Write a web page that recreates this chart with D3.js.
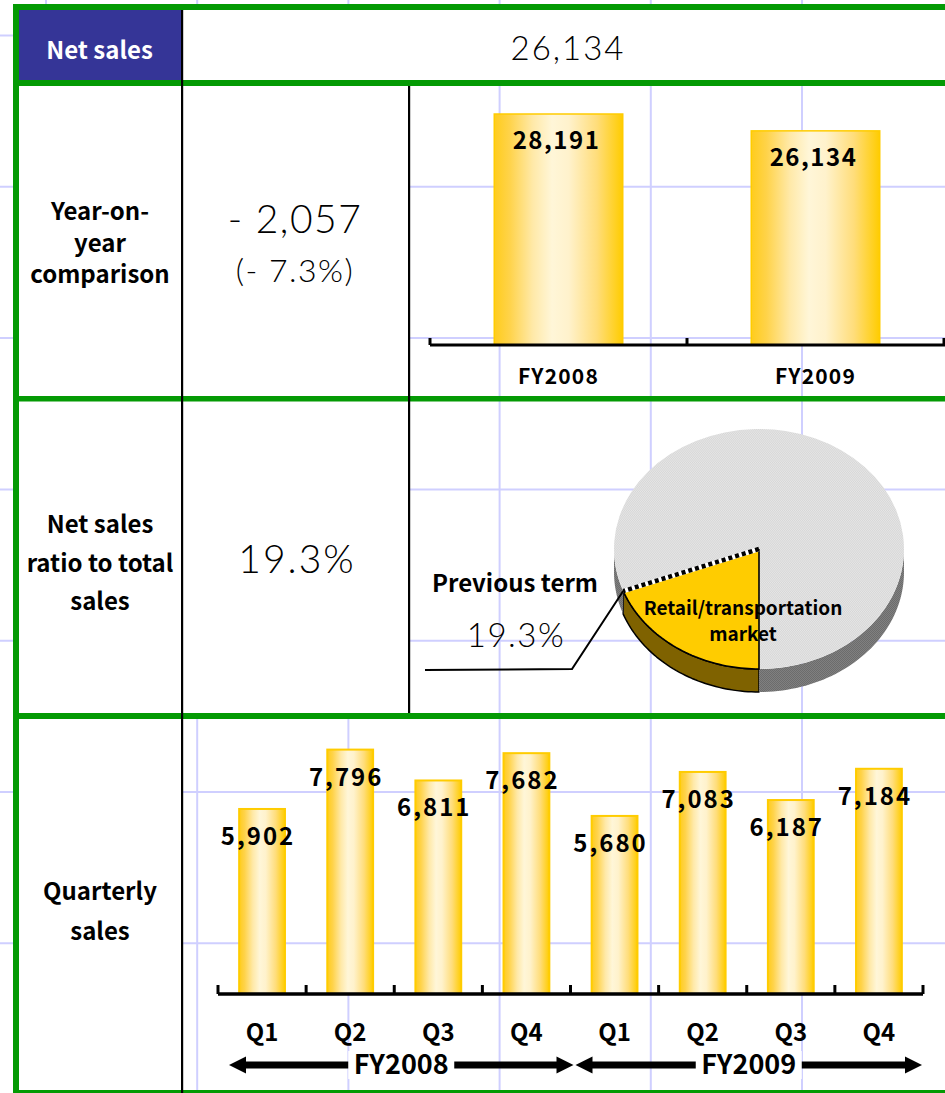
<!DOCTYPE html>
<html>
<head>
<meta charset="utf-8">
<script src="https://cdn.jsdelivr.net/npm/d3@7"></script>
<style>
  html, body { margin: 0; padding: 0; background: #ffffff; }
  svg { display: block; }
  .lbl { font-family: "Noto Sans CJK JP", "Noto Sans", sans-serif; font-weight: 700; fill: #000; }
  .num { font-family: "Lato", "Noto Sans", sans-serif; font-weight: 300; fill: #000; }
</style>
</head>
<body>
<script>
// ---- data ----
const headerLabel = "Net sales";
const currentNetSales = 26134;
const yoyChange = -2057;
const yoyChangePct = -7.3;

const fiscalYears = ["FY2008", "FY2009"];
const annualSales = [28191, 26134];

const shareLabel = ["Retail/transportation", "market"];
const shareSlices = ["Retail/transportation market", "Other"];
const shareValues = [19.3, 80.7];
const previousTermLabel = "Previous term";
const previousTermShare = 19.3;

const quarterNames = ["Q1", "Q2", "Q3", "Q4", "Q1", "Q2", "Q3", "Q4"];
const quarterYears = ["FY2008", "FY2008", "FY2008", "FY2008", "FY2009", "FY2009", "FY2009", "FY2009"];
const quarterlySales = [5902, 7796, 6811, 7682, 5680, 7083, 6187, 7184];

const rowLabels = [
  ["Year-on-", "year", "comparison"],
  ["Net sales", "ratio to total", "sales"],
  ["Quarterly", "sales"]
];

// ---- page ----
const W = 945, H = 1093;
const fmt = d3.format(",");
const svg = d3.select("body").append("svg").attr("width", W).attr("height", H);
const defs = svg.append("defs");

// bar fill: gold edges, pale cream centre
const grad = defs.append("linearGradient").attr("id", "barFill").attr("x1", 0).attr("x2", 1).attr("y1", 0).attr("y2", 0);
[[0, "#ffcc1c"], [0.12, "#ffd34a"], [0.3, "#ffe9a8"], [0.45, "#fff6d8"], [0.58, "#fff2cc"], [0.8, "#ffdd7a"], [1, "#ffcc00"]]
  .forEach(([o, c]) => grad.append("stop").attr("offset", o).attr("stop-color", c));

// dithered greys for the pie
function dither(id, a, b) {
  const p = defs.append("pattern").attr("id", id).attr("width", 2).attr("height", 2).attr("patternUnits", "userSpaceOnUse");
  p.append("rect").attr("width", 2).attr("height", 2).attr("fill", a);
  p.append("rect").attr("width", 1).attr("height", 1).attr("fill", b);
  p.append("rect").attr("x", 1).attr("y", 1).attr("width", 1).attr("height", 1).attr("fill", b);
}
dither("greyTop", "#e6e6e6", "#d6d6d6");
dither("greySide", "#808080", "#6c6c6c");

// background grid
const gridColor = "#cfcfff";
const gx = d3.range(6).map(i => 46 + i * 151.2);
const gy = d3.range(8).map(i => 35.5 + i * 151.3);
svg.append("g").selectAll("line.v").data(gx).join("line")
  .attr("x1", d => d).attr("x2", d => d).attr("y1", 0).attr("y2", H)
  .attr("stroke", gridColor).attr("stroke-width", 2);
svg.append("g").selectAll("line.h").data(gy).join("line")
  .attr("x1", 0).attr("x2", W).attr("y1", d => d).attr("y2", d => d)
  .attr("stroke", gridColor).attr("stroke-width", 2);

// table geometry
const colL = 19, colA = 182, colB = 409;
const rows = [[10, 83], [83, 398.5], [398.5, 716], [716, 1093]];

// opaque cells (label and value cells hide the grid)
const white = svg.append("g").attr("fill", "#fff");
white.append("rect").attr("x", colA).attr("y", rows[0][0]).attr("width", W - colA).attr("height", rows[0][1] - rows[0][0]);
[1, 2].forEach(r => white.append("rect").attr("x", colL).attr("y", rows[r][0]).attr("width", colB - colL).attr("height", rows[r][1] - rows[r][0]));
white.append("rect").attr("x", colL).attr("y", rows[3][0]).attr("width", colA - colL).attr("height", rows[3][1] - rows[3][0]);
svg.append("rect").attr("x", colL).attr("y", rows[0][0]).attr("width", colA - colL).attr("height", rows[0][1] - rows[0][0]).attr("fill", "#353597");

// header texts
svg.append("text").attr("class", "lbl").attr("x", (colL + colA) / 2 - 1).attr("y", 59)
  .attr("text-anchor", "middle").attr("font-size", 24).style("fill", "#fff").text(headerLabel);
svg.append("text").attr("class", "num").attr("x", 568).attr("y", 60)
  .attr("text-anchor", "middle").attr("font-size", 33).attr("letter-spacing", 2).text(fmt(currentNetSales));

// row labels
const labelBase = [[220, 251.5, 283], [533, 572, 610], [900, 940]];
rowLabels.forEach((lines, r) => {
  lines.forEach((t, i) => {
    svg.append("text").attr("class", "lbl").attr("x", 100).attr("y", labelBase[r][i])
      .attr("text-anchor", "middle").attr("font-size", 24).text(t);
  });
});

// value cells
const sign = v => (v < 0 ? "- " : "+ ");
svg.append("text").attr("class", "num").attr("x", 295).attr("y", 233)
  .attr("text-anchor", "middle").attr("font-size", 39).attr("letter-spacing", 1.5).text(sign(yoyChange) + fmt(Math.abs(yoyChange)));
svg.append("text").attr("class", "num").attr("x", 295).attr("y", 282)
  .attr("text-anchor", "middle").attr("font-size", 32).attr("letter-spacing", 1.5)
  .text("(" + sign(yoyChangePct).trim() + " " + Math.abs(yoyChangePct).toFixed(1) + "%)");
svg.append("text").attr("class", "num").attr("x", 297).attr("y", 573)
  .attr("text-anchor", "middle").attr("font-size", 39).attr("letter-spacing", 2).text(previousTermShare.toFixed(1) + "%");

// ---- annual bars ----
const axisY1 = 345;
const xA = d3.scaleBand().domain(fiscalYears).range([430, 944]);
const yA = d3.scaleLinear().domain([0, 28191]).range([axisY1, 114]);
const gA = svg.append("g");
gA.selectAll("rect").data(fiscalYears).join("rect")
  .attr("x", d => xA(d) + xA.bandwidth() * 0.25)
  .attr("width", xA.bandwidth() * 0.5)
  .attr("y", (d, i) => yA(annualSales[i]))
  .attr("height", (d, i) => axisY1 - yA(annualSales[i]))
  .attr("fill", "url(#barFill)").attr("stroke", "#ffcc00").attr("stroke-width", 1.5);
gA.selectAll("text.v").data(fiscalYears).join("text").attr("class", "lbl")
  .attr("x", d => xA(d) + xA.bandwidth() / 2 - 2)
  .attr("y", (d, i) => yA(annualSales[i]) + 35)
  .attr("text-anchor", "middle").attr("font-size", 24).attr("letter-spacing", 1.5)
  .text((d, i) => fmt(annualSales[i]));
gA.selectAll("text.c").data(fiscalYears).join("text").attr("class", "lbl")
  .attr("x", d => xA(d) + xA.bandwidth() / 2)
  .attr("y", 384).attr("text-anchor", "middle").attr("font-size", 21).attr("letter-spacing", 1.2)
  .text(d => d);
const ticksA = fiscalYears.map(d => xA(d)).concat([xA.range()[1]]);
gA.append("line").attr("x1", ticksA[0]).attr("x2", W).attr("y1", axisY1).attr("y2", axisY1)
  .attr("stroke", "#000").attr("stroke-width", 3);
gA.selectAll("line.t").data(ticksA).join("line")
  .attr("x1", d => d).attr("x2", d => d).attr("y1", axisY1).attr("y2", axisY1 - 7)
  .attr("stroke", "#000").attr("stroke-width", 3);

// ---- share pie (tilted 3D) ----
const pc = { x: 759, y: 549, rx: 145, ry: 120, depth: 23 };
const pie = d3.pie().sort(null).startAngle(Math.PI).endAngle(3 * Math.PI);
const arcs = pie(shareValues);
const pt = (a, dy = 0) => [pc.x + pc.rx * Math.sin(a), pc.y - pc.ry * Math.cos(a) + dy];
const wall = d3.line();
function sidePath(a0, a1) {
  const n = 48, top = [], bot = [];
  for (let k = 0; k <= n; k++) {
    const a = a0 + (a1 - a0) * k / n;
    top.push(pt(a));
    bot.push(pt(a, pc.depth));
  }
  return wall(top.concat(bot.reverse())) + "Z";
}
const front = [Math.PI / 2, 3 * Math.PI / 2];
const gP = svg.append("g");
// visible side walls
arcs.forEach((s, i) => {
  // clip each slice to the front half [pi/2, 3pi/2] (and its copy shifted by 2pi)
  [0, 2 * Math.PI].forEach(shift => {
    const a0 = Math.max(s.startAngle, front[0] + shift), a1 = Math.min(s.endAngle, front[1] + shift);
    if (a1 > a0) {
      gP.append("path").attr("d", sidePath(a0, a1))
        .attr("fill", i === 0 ? "#7f6200" : "url(#greySide)")
        .attr("stroke", i === 0 ? "#000" : "none").attr("stroke-width", 1.5).attr("stroke-linejoin", "round");
    }
  });
});
// top surface
const arcGen = d3.arc().innerRadius(0).outerRadius(pc.rx);
const topG = gP.append("g").attr("transform", `translate(${pc.x},${pc.y}) scale(1,${pc.ry / pc.rx})`);
topG.selectAll("path").data(arcs).join("path").attr("d", arcGen)
  .attr("fill", (d, i) => (i === 0 ? "#ffcc00" : "url(#greyTop)"))
  .attr("stroke", "none");
// slice outline: solid arc + radial edge, dotted leading edge
const sl = arcs[0];
const outline = d3.path();
outline.moveTo(...pt(sl.endAngle));
for (let k = 1; k <= 48; k++) outline.lineTo(...pt(sl.endAngle + (sl.startAngle - sl.endAngle) * k / 48));
outline.lineTo(pc.x, pc.y);
gP.append("path").attr("d", outline.toString()).attr("fill", "none").attr("stroke", "#000").attr("stroke-width", 1.6);
const edgeEnd = pt(sl.endAngle);
gP.append("line").attr("x1", pc.x).attr("y1", pc.y).attr("x2", edgeEnd[0]).attr("y2", edgeEnd[1])
  .attr("stroke", "#fff").attr("stroke-width", 4.5);
gP.append("line").attr("x1", pc.x).attr("y1", pc.y).attr("x2", edgeEnd[0]).attr("y2", edgeEnd[1])
  .attr("stroke", "#000").attr("stroke-width", 4.5).attr("stroke-dasharray", "4,3");
shareLabel.forEach((t, i) => {
  gP.append("text").attr("class", "lbl").attr("x", pc.x - 16).attr("y", pc.y + 66 + i * 26)
    .attr("text-anchor", "middle").attr("font-size", 19).text(t);
});
// leader to the previous-term callout
gP.append("path").attr("d", d3.line()([[425, 670], [572, 669], edgeEnd]))
  .attr("fill", "none").attr("stroke", "#000").attr("stroke-width", 2);
gP.append("text").attr("class", "lbl").attr("x", 515).attr("y", 592)
  .attr("text-anchor", "middle").attr("font-size", 24).text(previousTermLabel);
gP.append("text").attr("class", "num").attr("x", 516).attr("y", 647)
  .attr("text-anchor", "middle").attr("font-size", 33).attr("letter-spacing", 1.5).text(previousTermShare.toFixed(1) + "%");

// ---- quarterly bars ----
const axisY2 = 994;
const qKeys = quarterNames.map((q, i) => quarterYears[i] + "-" + q);
const xQ = d3.scaleBand().domain(qKeys).range([218, 923]);
const yQ = d3.scaleLinear().domain([0, 8000]).range([axisY2, axisY2 - 250.8]);
const gQ = svg.append("g");
const bwQ = xQ.bandwidth() * 0.52;
gQ.selectAll("rect").data(qKeys).join("rect")
  .attr("x", d => xQ(d) + (xQ.bandwidth() - bwQ) / 2)
  .attr("width", bwQ)
  .attr("y", (d, i) => yQ(quarterlySales[i]))
  .attr("height", (d, i) => axisY2 - yQ(quarterlySales[i]))
  .attr("fill", "url(#barFill)").attr("stroke", "#ffcc00").attr("stroke-width", 2);
gQ.selectAll("text.v").data(qKeys).join("text").attr("class", "lbl")
  .attr("x", d => xQ(d) + xQ.bandwidth() / 2 - 4)
  .attr("y", (d, i) => yQ(quarterlySales[i]) + 36)
  .attr("text-anchor", "middle").attr("font-size", 24).attr("letter-spacing", 2)
  .text((d, i) => fmt(quarterlySales[i]));
gQ.selectAll("text.q").data(qKeys).join("text").attr("class", "lbl")
  .attr("x", d => xQ(d) + xQ.bandwidth() / 2)
  .attr("y", 1041).attr("text-anchor", "middle").attr("font-size", 24)
  .text((d, i) => quarterNames[i]);
const ticksQ = qKeys.map(d => xQ(d)).concat([xQ.range()[1]]);
gQ.append("line").attr("x1", ticksQ[0]).attr("x2", ticksQ[ticksQ.length - 1]).attr("y1", axisY2).attr("y2", axisY2)
  .attr("stroke", "#000").attr("stroke-width", 3.5);
gQ.selectAll("line.t").data(ticksQ).join("line")
  .attr("x1", d => d).attr("x2", d => d).attr("y1", axisY2).attr("y2", axisY2 - 9)
  .attr("stroke", "#000").attr("stroke-width", 3);

// fiscal-year span arrows
const arrowY = 1065, head = 17, headH = 8.5;
fiscalYears.forEach(fy => {
  const keys = qKeys.filter(k => k.startsWith(fy));
  const x0 = xQ(keys[0]) + (fy === fiscalYears[0] ? 11 : 5);
  const x1 = xQ(keys[keys.length - 1]) + xQ.bandwidth() + (fy === fiscalYears[0] ? 3 : -1);
  const g = gQ.append("g");
  g.append("line").attr("x1", x0 + head - 1).attr("x2", x1 - head + 1).attr("y1", arrowY).attr("y2", arrowY)
    .attr("stroke", "#000").attr("stroke-width", 7);
  g.append("path").attr("d", d3.line()([[x0, arrowY], [x0 + head, arrowY - headH], [x0 + head, arrowY + headH]]) + "Z").attr("fill", "#000");
  g.append("path").attr("d", d3.line()([[x1, arrowY], [x1 - head, arrowY - headH], [x1 - head, arrowY + headH]]) + "Z").attr("fill", "#000");
  const cx = (x0 + x1) / 2;
  g.append("rect").attr("x", cx - 53).attr("y", arrowY - 14).attr("width", 106).attr("height", 28).attr("fill", "#fff");
  g.append("text").attr("class", "lbl").attr("x", cx).attr("y", arrowY + 9)
    .attr("text-anchor", "middle").attr("font-size", 27).text(fy);
});

// ---- table rules ----
const green = "#049a04";
const rules = svg.append("g");
rules.append("rect").attr("x", 13).attr("y", 4).attr("width", W - 13).attr("height", 6).attr("fill", green);
rules.append("rect").attr("x", 13).attr("y", 4).attr("width", 6).attr("height", H - 4).attr("fill", green);
[[80, 6], [396, 5.5], [713, 6], [1090, 3]].forEach(([y, h]) =>
  rules.append("rect").attr("x", 13).attr("y", y).attr("width", W - 13).attr("height", h).attr("fill", green));
rules.append("rect").attr("x", 181).attr("y", 10).attr("width", 2.2).attr("height", H - 10).attr("fill", "#000");
rules.append("rect").attr("x", 408).attr("y", 86).attr("width", 2.2).attr("height", 627).attr("fill", "#000");
</script>
</body>
</html>
